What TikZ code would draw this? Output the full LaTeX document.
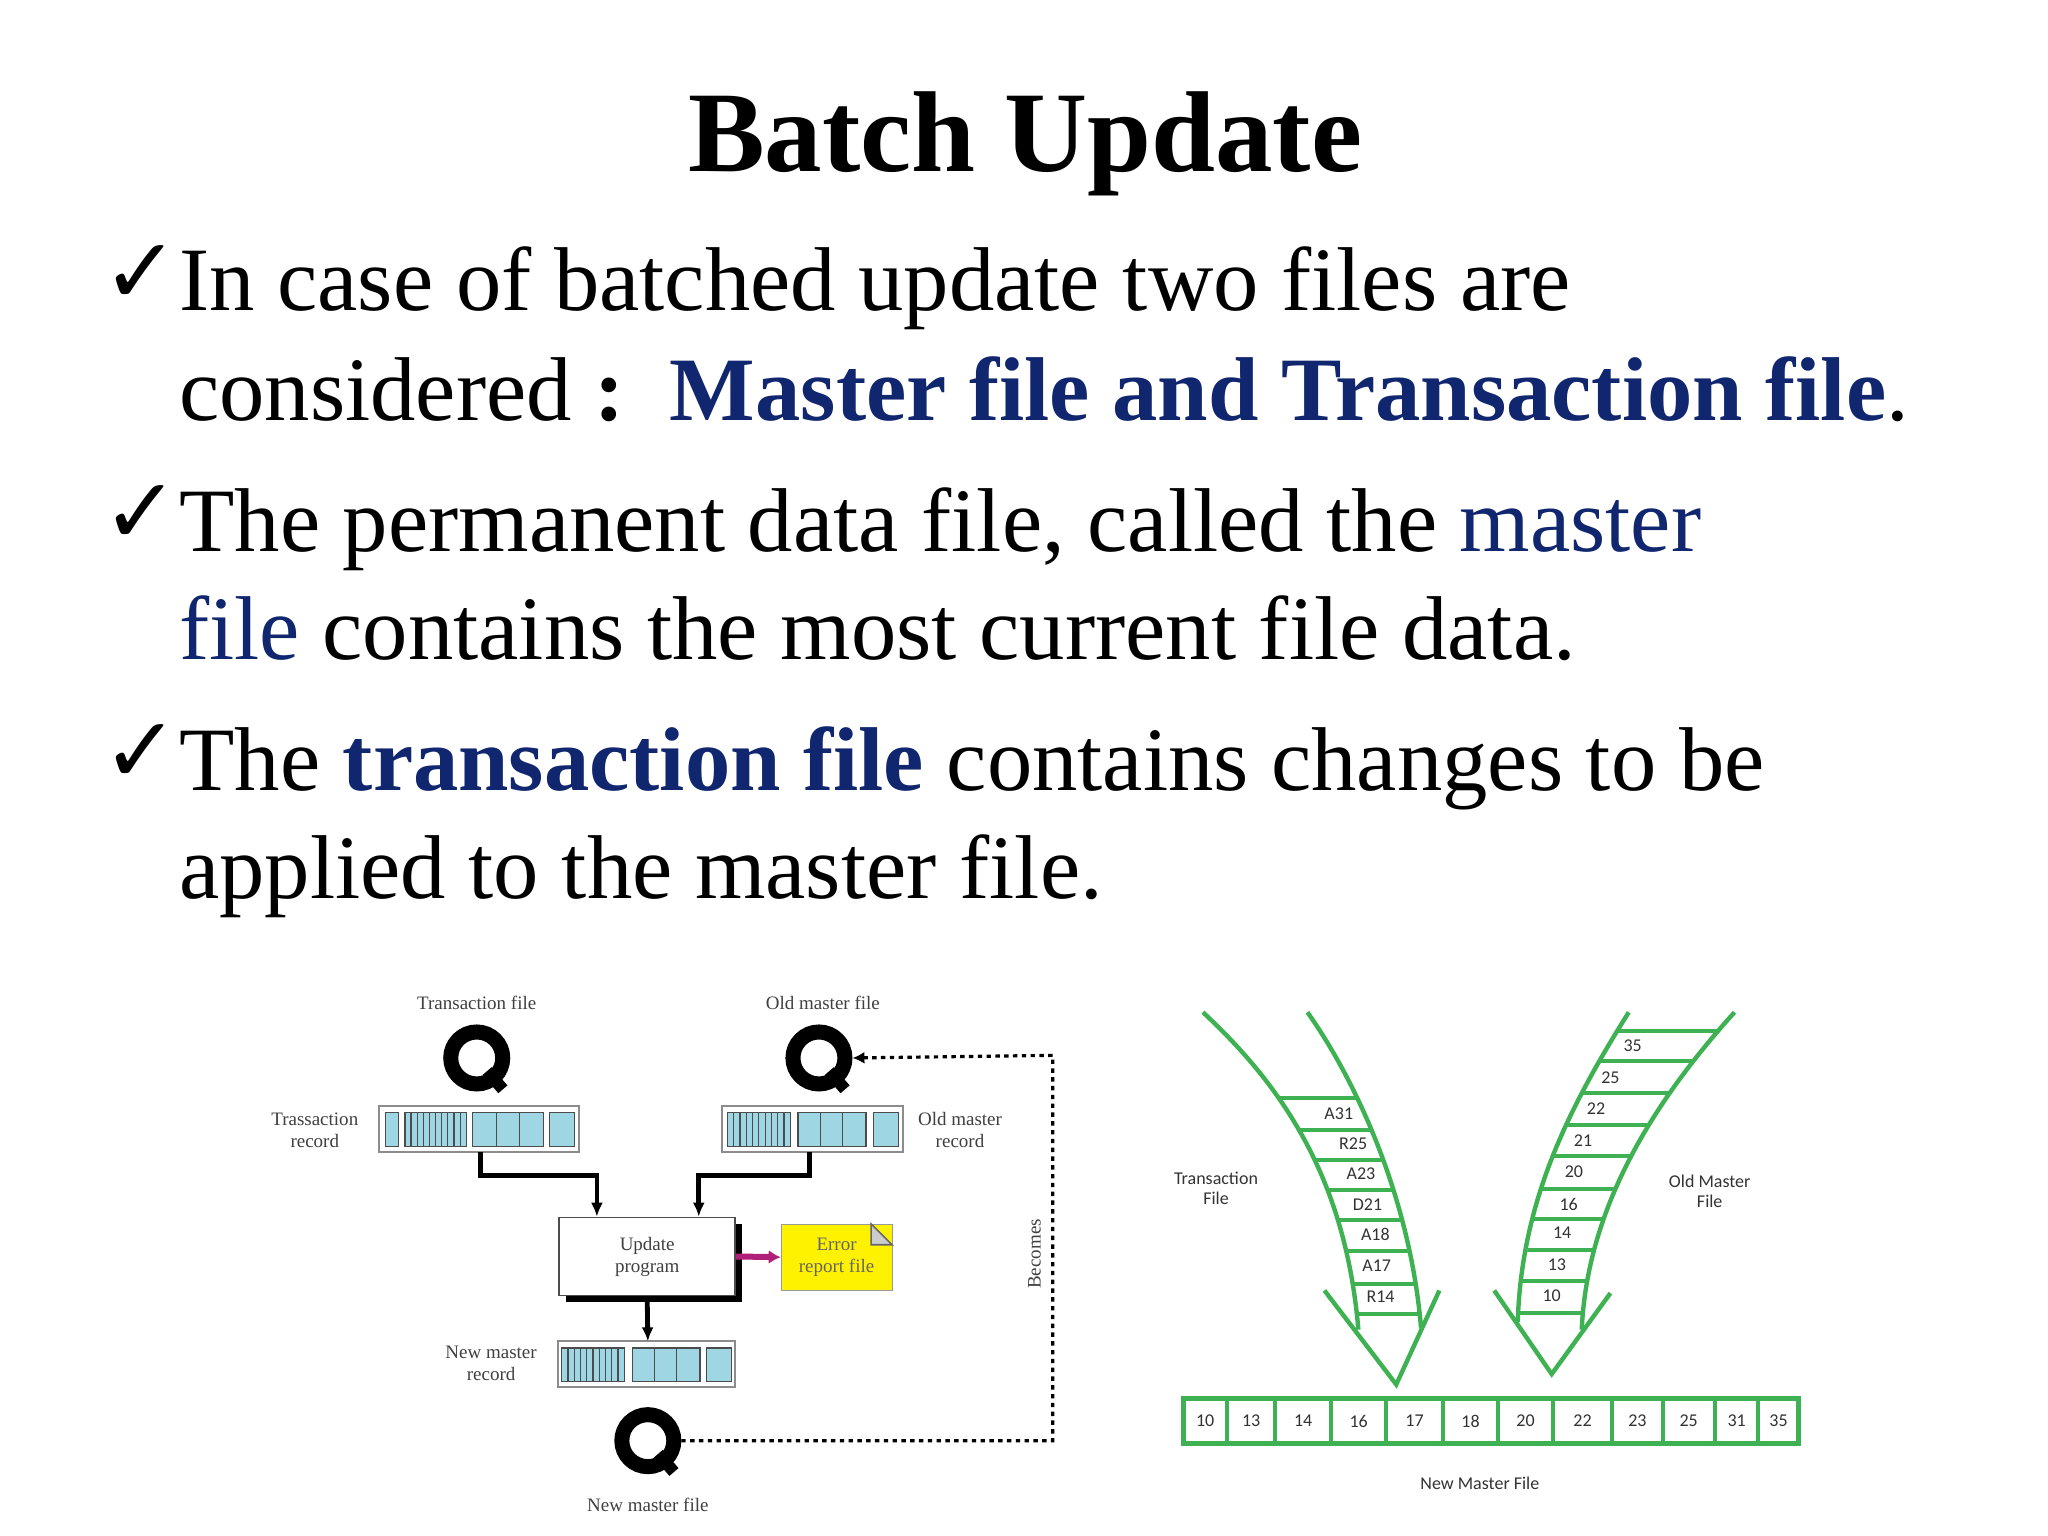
\documentclass[tikz,border=0pt]{standalone}
\usepackage{fontspec}
\setmainfont{Liberation Serif}
\newfontfamily\chk{DejaVu Sans}
\newfontfamily\lsans{Carlito}
\usetikzlibrary{arrows.meta}
\definecolor{navy}{RGB}{16,38,110}
\definecolor{grn}{RGB}{62,178,82}
\definecolor{lblue}{RGB}{158,214,228}
\definecolor{mag}{RGB}{176,32,122}
\begin{document}
\begin{tikzpicture}[x=0.653pt,y=-0.653pt,
  body/.style={anchor=base west,inner sep=0,font=\fontsize{45.3}{50}\selectfont},
  ck/.style={anchor=base west,inner sep=0,font=\chk\bfseries\fontsize{46}{48}\selectfont},
  sm/.style={font=\fontsize{9.5}{11}\selectfont,align=center,text=black!75,inner sep=0},
  gl/.style={font=\lsans\fontsize{9}{10}\selectfont,align=center,text=black!80,inner sep=0},
  cellf/.style={fill=lblue,draw=black!70,line width=0.6},
  reel/.style={circle,draw=black,line width=7.5pt,minimum size=26pt,inner sep=0},
  conn/.style={line width=2.4pt,-{Latex[length=7pt,width=6pt]}},
  dsh/.style={line width=1.6pt,dash pattern=on 2.2pt off 2.2pt},
  band/.style={draw=grn,line width=2.2pt},
  rung/.style={draw=grn,line width=2pt}]
\fill[white] (0,0) rectangle (1568,1176);
\useasboundingbox (0,0) rectangle (1568,1176);
% title and text
\node[anchor=base,inner sep=0,font=\bfseries\fontsize{57.5}{60}\selectfont] (title) at (785,131) {Batch Update};
\node[ck] (c1) at (78,232) {✓};
\node[ck] (c2) at (78,416) {✓};
\node[ck] (c3) at (78,599) {✓};
\node[body] (l1) at (137,238) {In case of batched update two files are};
\node[body] (l2) at (137,322) {considered \textbf{:}\ \ \textcolor{navy}{\textbf{Master file and Transaction file}}.};
\node[body] (l3) at (137,422) {The permanent data file, called the \textcolor{navy}{master}};
\node[body] (l4) at (137,505) {\textcolor{navy}{file} contains the most current file data.};
\node[body] (l5) at (137,605) {The \textcolor{navy}{\textbf{transaction file}} contains changes to be};
\node[body] (l6) at (137,688) {applied to the master file.};
% ---------- left diagram
\node[sm] (tfl) at (365,768) {Transaction file};
\node[sm] (ofl) at (630,768) {Old master file};
\node[reel] (q1) at (365,810) {};
\node[reel] (q2) at (627,810) {};
\node[reel] (q3) at (496,1103) {};
\foreach \p in {q1,q2,q3}{\draw[line width=6pt] (\p.center) ++(8,10) -- ++(12,14);}
\node[sm] (trl) at (241,865) {Trassaction\\record};
\node[sm] (orl) at (735,865) {Old master\\record};
\node[sm] (nrl) at (376,1044) {New master\\record};
\node[sm] (nfl) at (496,1152) {New master file};
% bars
\draw[draw=black!45,line width=1pt] (290,847) rectangle (443,882);
\draw[draw=black!45,line width=1pt] (553,847) rectangle (691,882);
\draw[draw=black!45,line width=1pt] (427,1027) rectangle (563,1062);
\coordinate (tb) at (368,882);
\coordinate (ob) at (620,882);
\coordinate (nb) at (496,1027);
% transaction bar cells
\draw[cellf] (295,852) rectangle (305,878);
\draw[cellf] (310,852) rectangle (357,878);
\foreach \i in {1,...,9} \draw[black!70,line width=0.6] (310+\i*4.7,852) -- (310+\i*4.7,878);
\draw[cellf] (362,852) rectangle (380,878); \draw[cellf] (380,852) rectangle (398,878); \draw[cellf] (398,852) rectangle (416,878);
\draw[cellf] (421,852) rectangle (440,878);
% old master cells
\draw[cellf] (557,852) rectangle (605,878);
\foreach \i in {1,...,9} \draw[black!70,line width=0.6] (557+\i*4.8,852) -- (557+\i*4.8,878);
\draw[cellf] (611,852) rectangle (628,878); \draw[cellf] (628,852) rectangle (645,878); \draw[cellf] (645,852) rectangle (663,878);
\draw[cellf] (669,852) rectangle (688,878);
% new master cells
\draw[cellf] (430,1032) rectangle (478,1058);
\foreach \i in {1,...,9} \draw[black!70,line width=0.6] (430+\i*4.8,1032) -- (430+\i*4.8,1058);
\draw[cellf] (484,1032) rectangle (501,1058); \draw[cellf] (501,1032) rectangle (518,1058); \draw[cellf] (518,1032) rectangle (536,1058);
\draw[cellf] (541,1032) rectangle (560,1058);
% update box
\fill[black] (433,937) rectangle (568,997);
\node[draw=black!70,fill=white,line width=0.8,minimum width=88pt,minimum height=39pt,sm] (upd) at (495.5,962) {Update\\program};
\node[draw=black!40,fill=yellow,minimum width=55.5pt,minimum height=33pt,sm,text=black!60] (err) at (640.5,962.5) {Error\\report file};
\draw[black!60,fill=black!20,line width=0.8] (667,937) -- (683,953) -- (667,953) -- cycle;
\draw[line width=3pt,mag,-{Latex[length=6pt,width=7pt]}] (upd.east) -- (err.west);
\draw[conn] (tb) |- (457,900) -- (upd.north -| 457,0);
\draw[conn] (ob) |- (535,900) -- (upd.north -| 535,0);
\draw[conn] (upd.south) -- (nb);
\draw[dsh,-{Latex[length=6pt,width=6pt]}] (q3.east) -| (806,808) -- (q2.east);
\node[sm,rotate=90] (bec) at (792,960) {Becomes};
% ---------- right diagram
\begin{scope}
\clip (921,775) .. controls (980,830) and (1030,900) .. (1040,1030) -- (1088,1030) .. controls (1080,920) and (1040,830) .. (1001,775) -- cycle;
\foreach \y in {841,865,888,911,934,958,983,1006} \draw[rung] (900,\y) -- (1120,\y);
\end{scope}
\draw[band] (921,775) .. controls (980,830) and (1030,900) .. (1040,1018);
\draw[band] (1001,775) .. controls (1040,830) and (1080,920) .. (1088,1017);
\draw[band,line join=miter] (1014,988) -- (1069,1060) -- (1102,988);
\begin{scope}
\clip (1247,775) .. controls (1200,850) and (1165,920) .. (1162,1030) -- (1211,1030) .. controls (1215,930) and (1260,850) .. (1328,775) -- cycle;
\foreach \y in {789,812,837,861,885,910,933,957,981,1005} \draw[rung] (1140,\y) -- (1340,\y);
\end{scope}
\draw[band] (1247,775) .. controls (1200,850) and (1165,920) .. (1162,1012);
\draw[band] (1328,775) .. controls (1260,850) and (1215,930) .. (1211,1018);
\draw[band,line join=miter] (1144,988) -- (1188,1052) -- (1233,990);
\foreach \t/\x/\y in {A31/1025/853,R25/1036/876,A23/1042/899,D21/1047/922,A18/1053/945,A17/1054/969,R14/1057/993,35/1250/801,25/1233/825,22/1222/849,21/1212/873,20/1205/897,16/1201/922,14/1196/944,13/1192/968,10/1188/992}
  \node[gl] at (\x,\y) {\t};
\node[gl] (tfr) at (931,910) {Transaction\\File};
\node[gl] (ofr) at (1309,912) {Old Master\\File};
\node[gl] (nmf) at (1133,1136) {New Master File};
\draw[rung,line width=2.4pt] (906,1071) rectangle (1377,1105);
\foreach \a/\b/\t in {906/939.4/10,939.4/976.4/13,976.4/1019/14,1019/1061.5/16,1061.5/1104.6/17,1104.6/1147.2/18,1147.2/1188.8/20,1188.8/1234.4/22,1234.4/1272.9/23,1272.9/1312.9/25,1312.9/1346.3/31,1346.3/1377/35}{
  \draw[rung] (\b,1071) -- (\b,1105);
  \node[gl] at ({(\a+\b)/2},1088) {\t};}
\end{tikzpicture}
\end{document}
